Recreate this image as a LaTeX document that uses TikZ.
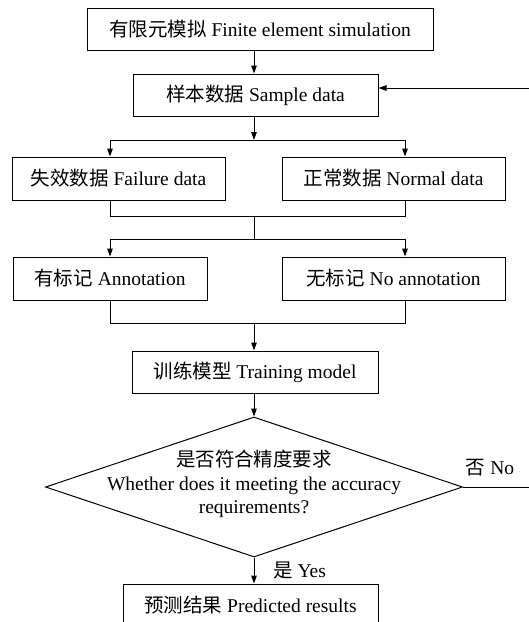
\documentclass[tikz,border=0pt]{standalone}
\usepackage{fontspec}
\setmainfont{Liberation Serif}
\newfontfamily\cjk{Noto Sans CJK SC}
\usetikzlibrary{shapes.geometric,arrows.meta}
\begin{document}
\begin{tikzpicture}[x=1pt,y=-1pt,
  lw/.style={line width=1pt},
  box/.style={draw, lw, minimum height=42pt, inner sep=0pt, font=\fontsize{19.5}{23}\selectfont},
  arr/.style={lw, -{Triangle[length=8pt,width=5.5pt]}},
  conn/.style={lw},
  lbl/.style={inner sep=0pt, font=\fontsize{19.5}{23}\selectfont}]
\useasboundingbox (0,0) rectangle (529,622);
\node[box, minimum width=346pt] (b1) at (260,29) {{\cjk 有限元模拟} Finite element simulation};
\node[box, minimum width=245pt] (b2) at (255.5,95) {{\cjk 样本数据} Sample data};
\node[box, minimum width=213pt, minimum height=43pt] (b3) at (118.5,178.5) {{\cjk 失效数据} Failure data};
\node[box, minimum width=223pt, minimum height=43pt] (b4) at (393.5,178.5) {{\cjk 正常数据} Normal data};
\node[box, minimum width=194pt, minimum height=43pt] (b5) at (110,278.5) {{\cjk 有标记} Annotation};
\node[box, minimum width=223pt, minimum height=43pt] (b6) at (393.5,278.5) {{\cjk 无标记} No annotation};
\node[box, minimum width=246pt] (b7) at (255,372) {{\cjk 训练模型} Training model};
\node[draw, lw, diamond, minimum width=417pt, minimum height=140pt, inner sep=0pt] (d) at (254,487) {};
\node[lbl, align=center, font=\fontsize{19.5}{23.5}\selectfont] (dt) at (254,484) {{\cjk 是否符合精度要求}\\Whether does it meeting the accuracy\\requirements?};
\node[box, minimum width=255pt] (b8) at (250.5,605) {{\cjk 预测结果} Predicted results};
% junctions
\coordinate (j1) at (254,140);
\coordinate (j1L) at (110,140);
\coordinate (j1R) at (405,140);
\coordinate (m1) at (254,216);
\coordinate (m1L) at (110,216);
\coordinate (m1R) at (405,216);
\coordinate (j2) at (254,239);
\coordinate (j2L) at (110,239);
\coordinate (j2R) at (405,239);
\coordinate (m2) at (254,323);
\coordinate (m2L) at (110,323);
\coordinate (m2R) at (405,323);
\coordinate (fb1) at (540,487);
\coordinate (fb2) at (540,88);
% connectors
\draw[arr] (b1.south -| j1) -- (b2.north -| j1);
\draw[arr] (b2.south -| j1) -- (j1);
\draw[conn] (j1L) -- (j1R);
\draw[arr] (j1L) -- (j1L |- b3.north);
\draw[arr] (j1R) -- (j1R |- b4.north);
\draw[conn] (b3.south -| m1L) -- (m1L) -- (m1R) -- (b4.south -| m1R);
\draw[conn] (m1) -- (j2);
\draw[conn] (j2L) -- (j2R);
\draw[arr] (j2L) -- (j2L |- b5.north);
\draw[arr] (j2R) -- (j2R |- b6.north);
\draw[conn] (b5.south -| m2L) -- (m2L) -- (m2R) -- (b6.south -| m2R);
\draw[arr] (m2) -- (b7.north -| m2);
\draw[arr] (b7.south -| d.north) -- (d.north);
\draw[arr] (d.south) -- (b8.north -| d.south);
\draw[arr] (d.east) -- (fb1) -- (fb2) -- (fb2 -| b2.east);
\node[lbl, anchor=west] (yes) at (273,570) {{\cjk 是} Yes};
\node[lbl] (no) at (490,468) {{\cjk 否} No};
\end{tikzpicture}
\end{document}
